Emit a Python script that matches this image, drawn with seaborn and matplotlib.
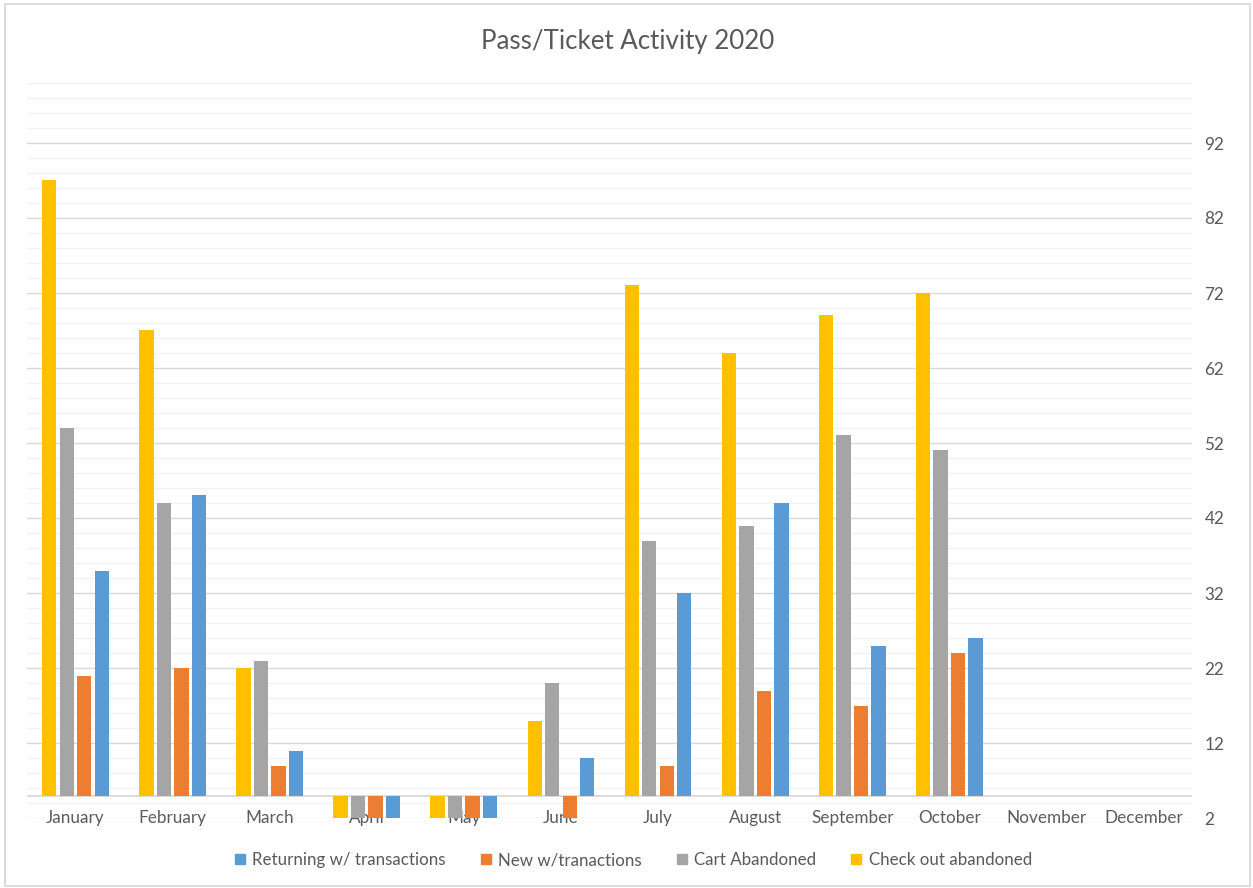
import matplotlib
matplotlib.use("Agg")
import matplotlib.pyplot as plt
import seaborn as sns
import pandas as pd
from matplotlib.lines import Line2D
from matplotlib.patches import Rectangle
from matplotlib.ticker import FixedLocator, MultipleLocator

# ---- data -------------------------------------------------------------
months = ["January", "February", "March", "April", "May", "June",
          "July", "August", "September", "October", "November", "December"]

checkout_abandoned = [87, 67, 22, 2, 2, 15, 73, 64, 69, 72, None, None]
cart_abandoned = [54, 44, 23, 2, 2, 20, 39, 41, 53, 51, None, None]
new_transactions = [21, 22, 9, 2, 2, 2, 9, 19, 17, 24, None, None]
returning_transactions = [35, 45, 11, 2, 2, 10, 32, 44, 25, 26, None, None]

series_names = ["Check out abandoned", "Cart Abandoned",
                "New w/tranactions", "Returning w/ transactions"]
series_values = [checkout_abandoned, cart_abandoned,
                 new_transactions, returning_transactions]
series_colors = ["#FFC000", "#A5A5A5", "#ED7D31", "#5B9BD5"]

legend_order = ["Returning w/ transactions", "New w/tranactions",
                "Cart Abandoned", "Check out abandoned"]

y_ticks = [2, 12, 22, 32, 42, 52, 62, 72, 82, 92]
y_min, y_max = 2, 100
axis_cross = 5  # horizontal axis crosses the value axis here

# ---- long-form table ----------------------------------------------------
rows = []
for name, vals in zip(series_names, series_values):
    for m, v in zip(months, vals):
        if v is not None:
            rows.append({"month": m, "series": name, "value": v})
df = pd.DataFrame(rows)
df["height"] = df["value"] - axis_cross  # bars grow from the crossing line

# ---- figure -------------------------------------------------------------
text_color = "#595959"
plt.rcParams["font.family"] = ["Lato", "DejaVu Sans"]

W, H = 1253, 888
fig = plt.figure(figsize=(W / 100, H / 100), dpi=100)
ax = fig.add_axes([27 / W, 1 - 818 / H, (1192 - 27) / W, (818 - 83) / H])

palette = dict(zip(series_names, series_colors))
sns.barplot(data=df, x="month", y="height", hue="series",
            order=months, hue_order=series_names, palette=palette,
            bottom=axis_cross, width=0.72, gap=0.18, errorbar=None,
            saturation=1, legend=False, ax=ax, zorder=3)

ax.set_ylim(y_min, y_max)
ax.set_xlim(-0.5, len(months) - 0.5)

# value axis on the right, with light gridlines every 2 units
ax.yaxis.set_major_locator(FixedLocator(y_ticks))
ax.yaxis.set_minor_locator(MultipleLocator(2))
ax.grid(which="minor", axis="y", color="#f2f2f2", lw=1.0, zorder=0)
ax.grid(which="major", axis="y", color="#d9d9d9", lw=1.0, zorder=0)
ax.grid(False, axis="x")
ax.set_axisbelow(True)
ax.yaxis.tick_right()
ax.tick_params(axis="y", which="both", length=0, pad=9,
               labelsize=12.3, labelcolor=text_color)
ax.tick_params(axis="x", length=0, pad=-5.5, labelsize=12.3,
               labelcolor=text_color)

ax.axhline(axis_cross, color="#d9d9d9", lw=1.3, zorder=2)

for s in ax.spines.values():
    s.set_visible(False)
ax.set_xlabel("")
ax.set_ylabel("")

# title
fig.text(627.5 / W, 1 - 42 / H, "Pass/Ticket Activity 2020",
         ha="center", va="center", fontsize=18.6, color=text_color)

# legend
handles = [Line2D([], [], marker="s", linestyle="", markersize=6.5,
                  color=palette[n]) for n in legend_order]
fig.legend(handles, legend_order, loc="center",
           bbox_to_anchor=(633 / W, 1 - 860 / H), ncol=4, frameon=False,
           fontsize=12.2, handlelength=0.7, handletextpad=0.4,
           columnspacing=2.0, labelcolor=text_color)

# chart-area border
fig.patches.append(Rectangle((5 / W, 2 / H), (1250 - 5) / W, (884 - 2) / H,
                             transform=fig.transFigure, fill=False,
                             edgecolor="#d9d9d9", lw=1.3))

fig.savefig("out.png", dpi=100, facecolor="white")
